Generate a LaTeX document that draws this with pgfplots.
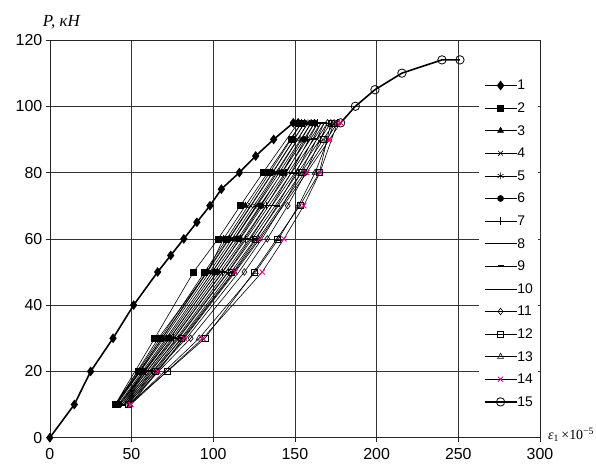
\documentclass[border=0pt]{standalone}
\usepackage{fontspec}
\setmainfont{Liberation Sans}
\newfontfamily\serif{Liberation Serif}
\usepackage{pgfplots}
\pgfplotsset{compat=1.18}

\begin{document}
\begin{tikzpicture}
\begin{axis}[
    scale only axis,
    width=490.2bp, height=397.7bp,
    xmin=0, xmax=300, ymin=0, ymax=120,
    xtick={0,50,...,300}, ytick={0,20,...,120},
    axis line style={black!85, line width=0.6bp},
    grid=major,
    major grid style={black!80, line width=0.6bp},
    tick align=outside,
    major tick length=4bp,
    tick style={black!85, line width=0.6bp},
    xtick pos=bottom, ytick pos=left,
    /pgf/number format/assume math mode=true,
    ticklabel style={font=\fontsize{16}{18}\selectfont},
    xticklabel style={yshift=-3bp},
    every axis plot/.append style={line width=0.6bp, black, mark size=2.8bp},
    legend image code/.code={
        \draw[mark repeat=2, mark phase=2, #1]
            plot coordinates {(0bp,0bp) (16bp,0bp) (32bp,0bp)};},
    legend style={at={(axis cs:262.4,109.2)}, anchor=north west,
        draw=none, fill=white, inner sep=5bp,
        font=\fontsize{14}{15}\selectfont,
        row sep=13.6bp,
        nodes={inner sep=0pt, text height=9bp, text depth=0bp}},
    legend cell align=left,
]
% 1 - first loading
\addplot[line width=1.6bp, mark=diamond*, mark size=3.6bp] coordinates {
    (0,0) (15,10) (25,20) (38.7,30) (51.3,40) (66,50) (74,55) (82,60)
    (90,65) (98,70) (105,75) (116,80) (126,85) (137,90) (149,95) (152,95)};
\addlegendentry{1}
% 2
\addplot[mark=square*, mark size=3bp] coordinates {
    (152,95) (130.5,80) (116.6,70) (103,60) (88,50) (64.2,30) (40,10)
    (53.9,20) (67.7,30) (94.8,50) (108.3,60) (134.6,80) (147.6,90) (154,95)};
\addlegendentry{2}
% 3
\addplot[mark=triangle*, mark size=3.4bp] coordinates {
    (154,95) (133.4,80) (119.7,70) (106.3,60) (96.5,50) (66.4,30) (40.5,10)
    (54.7,20) (68.8,30) (96.4,50) (109.9,60) (136.5,80) (149.5,90) (156,95)};
\addlegendentry{3}
% 4
\addplot[mark=x, mark size=3.4bp] coordinates {
    (156,95) (136.2,80) (122.9,70) (109.4,60) (95.9,50) (68.7,30) (41,10)
    (55.5,20) (69.8,30) (97.8,50) (111.5,60) (138.4,80) (151.5,90) (158,95)};
\addlegendentry{4}
% 5
\addplot[mark=asterisk, mark size=3.4bp] coordinates {
    (158,95) (139.1,80) (126.2,70) (112.9,60) (99.3,50) (71.3,30) (42,10)
    (56.7,20) (71.2,30) (99.5,50) (113.3,60) (140.4,80) (153.5,90) (160,95)};
\addlegendentry{5}
% 6
\addplot[mark=*, mark size=3bp] coordinates {
    (160,95) (142,80) (129.3,70) (116.1,60) (102.5,50) (73.5,30) (42.5,10)
    (57.5,20) (72.2,30) (100.9,50) (115,60) (142.2,80) (155.5,90) (162,95)};
\addlegendentry{6}
% 7
\addplot[mark=+, mark size=3.8bp] coordinates {
    (162,95) (144.8,80) (132.5,70) (119.4,60) (105.6,50) (75.7,30) (43,10)
    (58.2,20) (73.3,30) (102.4,50) (116.6,60) (144.1,80) (157.5,90) (164,95)};
\addlegendentry{7}
% 8
\addplot[mark=-, mark size=2.4bp] coordinates {
    (164,95) (147.7,80) (135.8,70) (122.8,60) (109,50) (78.3,30) (44,10)
    (59.4,20) (74.7,30) (104.1,50) (118.5,60) (146.1,80) (159.4,90) (166,95)};
\addlegendentry{8}
% 9
\addplot[mark=-, mark size=3bp, mark options={line width=2bp}] coordinates {
    (166,95) (150.7,80) (139.1,70) (126.3,60) (112.3,50) (81,30) (45,10)
    (60.7,20) (76.1,30) (105.9,50) (120.2,60) (148,80) (161.5,90) (168,95)};
\addlegendentry{9}
% 10
\addplot[mark=none] coordinates {
    (168,95) (153.7,80) (142.4,70) (129.8,60) (115.7,50) (83.6,30) (46,10)
    (61.9,20) (77.5,30) (107.6,50) (122,60) (150,80) (163.4,90) (170,95)};
\addlegendentry{10}
% 11
\addplot[mark=diamond, mark size=3.3bp, mark options={fill=white}] coordinates {
    (170,95) (156.6,80) (145.6,70) (133.1,60) (119.1,50) (86.2,30) (47,10)
    (63.2,20) (78.9,30) (109.3,50) (123.9,60) (151.9,80) (165.4,90) (172,95)};
\addlegendentry{11}
% 12
\addplot[mark=square, mark size=3bp, mark options={fill=white}] coordinates {
    (172,95) (165,80) (153,70) (139,60) (125,50) (95,30) (72,20) (48,10)
    (64.4,20) (80.3,30) (111,50) (125.7,60) (154,80) (167.4,90) (174,95)};
\addlegendentry{12}
% 13
\addplot[mark=triangle, mark size=3.4bp, mark options={fill=white}] coordinates {
    (174,95) (162.4,80) (152.2,70) (140,60) (125.8,50) (91.4,30) (49,10)
    (65.6,20) (81.8,30) (112.8,50) (127.6,60) (155.9,80) (169.4,90) (176,95)};
\addlegendentry{13}
% 14
\addplot[mark=x, mark size=3.6bp, mark options={magenta, line width=0.9bp}] coordinates {
    (176,95) (165.3,80) (155.4,70) (143.3,60) (130,50) (93.7,30) (49.5,10)
    (66.1,20) (82.2,30) (113.5,50) (128.5,60) (157.3,80) (171.2,90) (178,95)};
\addlegendentry{14}
% 15 - final loading
\addplot[line width=1.6bp, mark=o, mark size=4.2bp,
         mark options={fill=white, line width=0.8bp}] coordinates {
    (178,95) (187,100) (199,105) (215.5,110) (240,114) (251,114)};
\addlegendentry{15}
\end{axis}
\node[anchor=base west, font=\serif\itshape\fontsize{17}{19}\selectfont, inner sep=0pt]
    at ([xshift=-7bp, yshift=13bp]current axis.north west) {P, кН};
\node[anchor=base west, font=\serif\fontsize{14}{16}\selectfont, inner sep=0pt]
    at ([xshift=8bp, yshift=-2bp]current axis.south east)
    {\itshape ε\textsubscript{\upshape 1}\upshape\,×10\textsuperscript{−5}};
\path ([xshift=-49.8bp, yshift=-30.3bp]current axis.south west)
    rectangle ([xshift=56bp, yshift=40bp]current axis.north east);
\end{tikzpicture}
\end{document}
